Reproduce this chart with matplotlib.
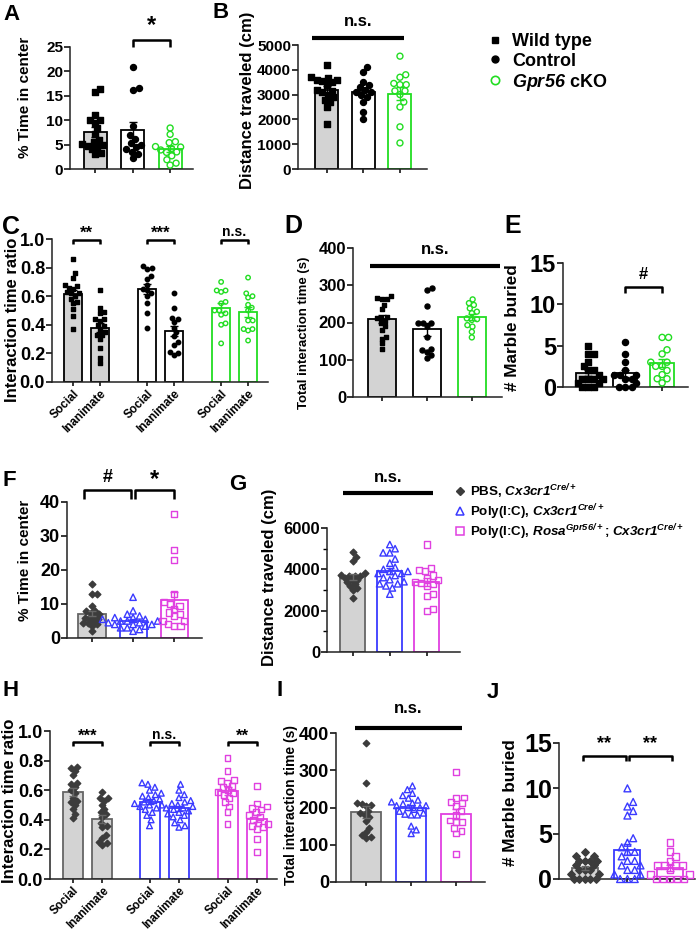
import numpy as np
import matplotlib
matplotlib.use('Agg')
import matplotlib.pyplot as plt
from matplotlib.lines import Line2D

plt.rcParams['font.family'] = ['Liberation Sans', 'DejaVu Sans']
plt.rcParams['font.weight'] = 'bold'
plt.rcParams['axes.labelweight'] = 'bold'
# math text is only used for the italic gene names
plt.rcParams['mathtext.fontset'] = 'custom'
plt.rcParams['mathtext.rm'] = 'Liberation Sans:italic:bold'
plt.rcParams['mathtext.it'] = 'Liberation Sans:italic:bold'
plt.rcParams['mathtext.bf'] = 'Liberation Sans:italic:bold'

# ---- data ----
A_wt = [16.3, 15.8, 11.0, 10.0, 10.0, 9.5, 8.3, 7.2, 6.0, 5.5, 5.2, 5.0, 4.8, 4.5, 4.0, 3.2, 3.0]
A_ctrl = [20.8, 16.5, 16.2, 8.9, 7.0, 6.2, 5.3, 5.0, 4.5, 4.2, 3.5, 3.0, 2.2]
A_cko = [8.4, 7.1, 5.6, 5.4, 4.6, 4.5, 4.2, 3.9, 3.5, 3.4, 2.7, 1.9, 1.2, 0.8]

B_wt = [4200, 3700, 3650, 3600, 3600, 3550, 3500, 3400, 3200, 3150, 3100, 3000, 2900, 2800, 2700, 2500, 1800]
B_ctrl = [4100, 3900, 3500, 3400, 3300, 3200, 3100, 3100, 3000, 2900, 2700, 2300, 2000]
B_cko = [4550, 3800, 3700, 3450, 3400, 3400, 3150, 3150, 3000, 2700, 2500, 1700, 1050]

C_wt_soc = [0.86, 0.76, 0.73, 0.68, 0.67, 0.66, 0.65, 0.63, 0.62, 0.62, 0.60, 0.58, 0.56, 0.55, 0.51, 0.46, 0.37]
C_wt_inan = [0.64, 0.52, 0.49, 0.48, 0.44, 0.44, 0.43, 0.40, 0.39, 0.37, 0.35, 0.33, 0.33, 0.30, 0.24, 0.17, 0.13]
C_ctrl_soc = [0.81, 0.80, 0.79, 0.74, 0.72, 0.68, 0.65, 0.64, 0.62, 0.60, 0.55, 0.48, 0.38]
C_ctrl_inan = [0.62, 0.52, 0.45, 0.44, 0.42, 0.38, 0.35, 0.32, 0.28, 0.26, 0.21, 0.20, 0.19]
C_cko_soc = [0.70, 0.64, 0.64, 0.63, 0.56, 0.55, 0.50, 0.50, 0.48, 0.47, 0.41, 0.40, 0.27]
C_cko_inan = [0.73, 0.62, 0.60, 0.59, 0.54, 0.52, 0.50, 0.43, 0.43, 0.37, 0.37, 0.36, 0.29]

D_wt = [270, 266, 264, 262, 247, 236, 216, 213, 211, 204, 198, 190, 180, 162, 157, 144, 130]
D_ctrl = [293, 287, 245, 200, 200, 198, 190, 160, 130, 125, 122, 112, 105]
D_cko = [262, 252, 247, 238, 229, 225, 211, 209, 207, 193, 189, 175, 160]

E_wt = [5, 4, 4, 3, 2.5, 2, 2, 1.5, 1, 1, 1, 1, 0.5, 0.5, 0, 0, 0]
E_ctrl = [5.5, 4, 3, 2, 1.5, 1.5, 1.5, 1, 1, 0.5, 0, 0, 0]
E_cko = [6, 6, 4.5, 4, 3, 3, 2.5, 2.5, 2, 1.5, 1, 1, 0.5]

F_pbs = [16, 13, 13, 9.5, 8, 8, 7.5, 7, 6.5, 6, 6, 5.5, 5, 4.5, 4.5, 4, 3.5, 2]
F_pic = [12, 8, 7, 6.5, 6, 6, 5.5, 5.5, 5, 5, 5, 4.5, 4.5, 4, 4, 4, 3.5, 3, 3, 2.5, 2]
F_rosa = [36.5, 26, 23, 13, 10.5, 10, 9.5, 8.5, 7.5, 7, 6.5, 5, 5, 4, 3.5, 3.5]

G_pbs = [4850, 4600, 4400, 3800, 3750, 3700, 3700, 3700, 3600, 3500, 3500, 3400, 3300, 3200, 3100, 3000, 2600]
G_pic = [5200, 5000, 4800, 4800, 4500, 4300, 4100, 4000, 3900, 3900, 3800, 3800, 3700, 3600,
         3500, 3400, 3300, 3300, 3200, 3100, 2800]
G_rosa = [5200, 4050, 3950, 3900, 3700, 3600, 3500, 3400, 3350, 3300, 3200, 2800, 2700, 2100, 2000]

H_pbs_soc = [0.76, 0.75, 0.73, 0.70, 0.65, 0.64, 0.62, 0.60, 0.58, 0.55, 0.53, 0.52, 0.50, 0.47, 0.44, 0.41]
H_pbs_inan = [0.59, 0.55, 0.55, 0.53, 0.50, 0.47, 0.45, 0.44, 0.42, 0.38, 0.36, 0.35, 0.30, 0.28, 0.25, 0.24, 0.23]
H_pic_soc = [0.65, 0.64, 0.62, 0.60, 0.58, 0.57, 0.56, 0.55, 0.54, 0.53, 0.52, 0.51, 0.50, 0.50,
             0.49, 0.48, 0.47, 0.45, 0.43, 0.40, 0.36]
H_pic_inan = [0.64, 0.60, 0.57, 0.55, 0.53, 0.52, 0.51, 0.50, 0.49, 0.48, 0.48, 0.47, 0.46, 0.45,
              0.44, 0.43, 0.42, 0.40, 0.38, 0.36, 0.35]
H_rosa_soc = [0.82, 0.73, 0.67, 0.66, 0.65, 0.63, 0.62, 0.60, 0.59, 0.58, 0.57, 0.55, 0.52, 0.49, 0.45, 0.37]
H_rosa_inan = [0.63, 0.51, 0.49, 0.48, 0.47, 0.45, 0.43, 0.42, 0.40, 0.38, 0.37, 0.36, 0.35, 0.34, 0.27, 0.18]

I_pbs = [372, 267, 212, 210, 208, 203, 190, 185, 180, 175, 165, 145, 135, 125, 120, 118]
I_pic = [258, 248, 238, 232, 225, 220, 215, 212, 210, 205, 205, 200, 200, 195, 190, 185, 182, 180,
         180, 150, 140, 130]
I_rosa = [295, 227, 225, 215, 212, 205, 190, 180, 165, 162, 160, 145, 138, 130, 75]

J_pbs = [3, 2.5, 2.5, 2, 2, 2, 2, 1.5, 1.5, 1, 1, 1, 0.5, 0.5, 0, 0, 0, 0, 0]
J_pic = [10, 8.5, 8, 7.5, 7, 4.5, 4, 3.5, 3, 3, 2.5, 2, 2, 1.5, 1.5, 1, 1, 0.5, 0.5, 0, 0, 0]
J_rosa = [4, 3, 2.5, 2, 1.5, 1.5, 1.5, 1.5, 1, 0.5, 0.5, 0, 0, 0, 0, 0]

social_labels = ['Social', 'Inanimate']
legend1_labels = ['Wild type', 'Control', r'$\mathrm{Gpr56}$ cKO']
legend2_labels = [r'PBS, $\mathrm{Cx3cr1}^{\mathrm{Cre/+}}$',
                  r'Poly(I:C), $\mathrm{Cx3cr1}^{\mathrm{Cre/+}}$',
                  r'Poly(I:C), $\mathrm{Rosa}^{\mathrm{Gpr56/+}}$; $\mathrm{Cx3cr1}^{\mathrm{Cre/+}}$']

# ---- styles ----
GREY = '#d3d3d3'
GREEN = '#22dd22'
BLUE = '#3a3aff'
MAGENTA = '#e040e0'
DARK = '#3c3c3c'

WT = dict(marker='s', fc='black', ec='black', fill=GREY, edge='black', err='black')
CTRL = dict(marker='o', fc='black', ec='black', fill='white', edge='black', err='black')
CKO = dict(marker='o', fc='none', ec=GREEN, fill='white', edge=GREEN, err=GREEN)
PBS = dict(marker='D', fc=DARK, ec=DARK, fill=GREY, edge='#666666', err='#666666')
PIC = dict(marker='^', fc='none', ec=BLUE, fill='white', edge=BLUE, err=BLUE)
ROSA = dict(marker='s', fc='none', ec=MAGENTA, fill='white', edge=MAGENTA, err=MAGENTA)

W, H = 700, 931
fig = plt.figure(figsize=(7, 9.31), dpi=100)


def make_ax(l, r, t, b, xlim, ylim, yticks, fs, fmt=None):
    ax = fig.add_axes([l / W, 1 - b / H, (r - l) / W, (b - t) / H])
    ax.set_xlim(*xlim)
    ax.set_ylim(*ylim)
    for s in ['top', 'right']:
        ax.spines[s].set_visible(False)
    for s in ['left', 'bottom']:
        ax.spines[s].set_linewidth(1.1)
        ax.spines[s].set_color('#222222')
    ax.set_yticks(yticks)
    if fmt:
        ax.set_yticklabels([fmt.format(v) for v in yticks])
    ax.tick_params(axis='y', labelsize=fs, length=4, width=1.1, pad=1)
    ax.tick_params(axis='x', length=3, width=1.1)
    ax.panel_px = (l, r, t, b)
    return ax


def set_ylabel(ax, text, fs, right_px, center_px):
    l, r, t, b = ax.panel_px
    ax.set_ylabel(text, fontsize=fs, fontweight='bold')
    ax.yaxis.set_label_coords((right_px - l) / (r - l), (b - center_px) / (b - t))


def swarm(ax, x0, vals, d):
    # simple beeswarm in pixel space
    tr = ax.transData
    pts = tr.transform(np.column_stack([np.full(len(vals), x0), vals]))
    ypx = pts[:, 1]
    x0px = pts[0, 0]
    placed = []
    offs = np.zeros(len(vals))
    for i in np.argsort(vals):
        y = ypx[i]
        cands = [0.0]
        for xo, yo in placed:
            dy = abs(y - yo)
            if dy < d:
                dx = np.sqrt(d * d - dy * dy)
                cands += [xo + dx, xo - dx]
        cands.sort(key=abs)
        c = 0.0
        for c in cands:
            if all((c - xo) ** 2 + (y - yo) ** 2 >= d * d - 1e-6 for xo, yo in placed):
                break
        offs[i] = c
        placed.append((c, y))
    back = tr.inverted().transform(np.column_stack([x0px + offs, ypx]))
    return back[:, 0]


def group(ax, x, vals, st, width, ms, lw_bar=1.3, cap=3):
    vals = np.asarray(vals, dtype=float)
    m = vals.mean()
    se = vals.std(ddof=1) / np.sqrt(len(vals))
    ax.bar(x, m, width, color=st['fill'], edgecolor=st['edge'], linewidth=lw_bar, zorder=1)
    xs = swarm(ax, x, vals, ms * 100 / 72 * 1.05)
    ax.scatter(xs, vals, marker=st['marker'], s=ms ** 2, facecolors=st['fc'],
               edgecolors=st['ec'], linewidths=1.0, zorder=3, clip_on=False)
    ax.errorbar(x, m, yerr=se, color=st['err'], capsize=cap, lw=1.0, capthick=1.0, zorder=4)


def bracket(ax, x1, x2, y, h, text, fs, ty):
    ax.plot([x1, x1, x2, x2], [y - h, y, y, y - h], color='black', lw=1.8, clip_on=False,
            solid_capstyle='butt')
    ax.text((x1 + x2) / 2, ty, text, ha='center', va='center', fontsize=fs, fontweight='bold')


def nsline(ax, x1, x2, y, ty, fs):
    ax.plot([x1, x2], [y, y], color='black', lw=3, clip_on=False, solid_capstyle='butt')
    ax.text((x1 + x2) / 2, ty, 'n.s.', ha='center', va='center', fontsize=fs, fontweight='bold')


def letter(x, y, s, fs=16):
    fig.text(x / W, 1 - y / H, s, fontsize=fs, fontweight='bold', ha='left', va='top')


def legend_rows(xm, xt, ys, markers, labels, fs, shift):
    for y, mk, lab in zip(ys, markers, labels):
        fig.add_artist(Line2D([xm / W], [1 - y / H], transform=fig.transFigure, ls='', **mk))
        fig.text(xt / W, 1 - (y + shift) / H, lab, fontsize=fs, fontweight='bold',
                 ha='left', va='baseline')


# ---- A ----
ax = make_ax(70, 193, 47, 169, (-0.67, 2.61), (0, 25), [0, 5, 10, 15, 20, 25], 11)
ax.set_xticks([0, 1, 2], ['', '', ''])
group(ax, 0, A_wt, WT, 0.61, 4.0)
group(ax, 1, A_ctrl, CTRL, 0.61, 4.3)
group(ax, 2, A_cko, CKO, 0.61, 4.3)
bracket(ax, 1, 2, 26.4, 1.4, '*', 17, 29.5)
set_ylabel(ax, '% Time in center', 11, 32, 97)

# ---- B ----
ax = make_ax(298, 427, 45, 169, (-0.79, 2.74), (0, 5000), [0, 1000, 2000, 3000, 4000, 5000], 11)
ax.set_xticks([0, 1, 2], ['', '', ''])
group(ax, 0, B_wt, WT, 0.63, 4.0)
group(ax, 1, B_ctrl, CTRL, 0.63, 4.3)
group(ax, 2, B_cko, CKO, 0.63, 4.3)
nsline(ax, -0.4, 2.1, 5280, 5950, 12)
set_ylabel(ax, 'Distance traveled (cm)', 12, 255, 100)

legend_rows(495, 512, [40, 59, 80],
            [dict(marker='s', color='black', ms=5),
             dict(marker='o', color='black', ms=5),
             dict(marker='o', mfc='none', mec=GREEN, ms=6, mew=1.2)],
            legend1_labels, 13, 6.5)

# ---- C ----
xc = [0, 1, 2.75, 3.75, 5.5, 6.5]
ax = make_ax(52, 268, 239, 382, (-0.78, 7.24), (0, 1.0), [0, 0.2, 0.4, 0.6, 0.8, 1.0], 13, '{:.1f}')
ax.set_xticks(xc, social_labels * 3, rotation=45, ha='right', rotation_mode='anchor', fontsize=8.5)
ax.tick_params(axis='x', pad=1)
for xi, vals, st in zip(xc, [C_wt_soc, C_wt_inan, C_ctrl_soc, C_ctrl_inan, C_cko_soc, C_cko_inan],
                        [WT, WT, CTRL, CTRL, CKO, CKO]):
    group(ax, xi, vals, st, 0.67, 3.2)
bracket(ax, 0, 1, 0.995, 0.03, '**', 12, 1.04)
bracket(ax, 2.75, 3.75, 0.995, 0.03, '***', 12, 1.04)
bracket(ax, 5.5, 6.5, 0.995, 0.03, 'n.s.', 10, 1.05)
set_ylabel(ax, 'Interaction time ratio', 12, 20, 320)

# ---- D ----
ax = make_ax(353, 502, 248, 397, (-0.64, 2.67), (0, 400), [0, 100, 200, 300, 400], 12)
ax.set_xticks([0, 1, 2], ['', '', ''])
group(ax, 0, D_wt, WT, 0.62, 3.3)
group(ax, 1, D_ctrl, CTRL, 0.62, 3.6)
group(ax, 2, D_cko, CKO, 0.62, 3.6)
nsline(ax, -0.26, 2.62, 352, 395, 12)
set_ylabel(ax, 'Total interaction time (s)', 9.5, 310, 333)

# ---- E ----
ax = make_ax(563, 688, 263, 387, (-0.68, 2.7), (0, 15), [0, 5, 10, 15], 17)
ax.set_xticks([0, 1, 2], ['', '', ''])
group(ax, 0, E_wt, WT, 0.65, 4.2)
group(ax, 1, E_ctrl, CTRL, 0.65, 4.4)
group(ax, 2, E_cko, CKO, 0.65, 4.4)
bracket(ax, 1, 2, 12.1, 0.7, '#', 12, 13.6)
set_ylabel(ax, '# Marble buried', 12.3, 520, 328)

# ---- F ----
ax = make_ax(67, 202, 502, 638, (-0.61, 2.68), (0, 40), [0, 10, 20, 30, 40], 13)
ax.set_xticks([0, 1, 2], ['', '', ''])
group(ax, 0, F_pbs, PBS, 0.66, 3.4)
group(ax, 1, F_pic, PIC, 0.66, 4.6)
group(ax, 2, F_rosa, ROSA, 0.66, 4.4)
bracket(ax, -0.2, 0.95, 43.5, 2.5, '#', 13, 47.3)
bracket(ax, 1.05, 2.0, 43.5, 2.5, '*', 17, 46.5)
set_ylabel(ax, '% Time in center', 11, 32, 560)

# ---- G ----
ax = make_ax(327, 460, 528, 652, (-0.7, 2.9), (0, 6000), [0, 2000, 4000, 6000], 12)
ax.set_yticks([1000, 3000, 5000], minor=True)
ax.tick_params(axis='y', which='minor', length=3, width=1.0)
ax.set_xticks([0, 1, 2], ['', '', ''])
group(ax, 0, G_pbs, PBS, 0.68, 3.4)
group(ax, 1, G_pic, PIC, 0.68, 4.6)
group(ax, 2, G_rosa, ROSA, 0.68, 4.4)
nsline(ax, -0.27, 2.16, 7690, 8420, 12)
set_ylabel(ax, 'Distance traveled (cm)', 12, 277, 577)

legend_rows(460, 470, [491, 511, 531],
            [dict(marker='D', color=DARK, ms=4),
             dict(marker='^', mfc='none', mec=BLUE, ms=6, mew=1.1),
             dict(marker='s', mfc='none', mec=MAGENTA, ms=5.5, mew=1.1)],
            legend2_labels, 9.6, 5)

# ---- H ----
xh = [0, 1, 2.6, 3.6, 5.25, 6.25]
ax = make_ax(50, 277, 731, 879, (-0.78, 6.93), (0, 1.0), [0, 0.2, 0.4, 0.6, 0.8, 1.0], 13, '{:.1f}')
ax.set_xticks(xh, social_labels * 3, rotation=45, ha='right', rotation_mode='anchor', fontsize=8.3)
ax.tick_params(axis='x', pad=1)
for xi, vals, st in zip(xh, [H_pbs_soc, H_pbs_inan, H_pic_soc, H_pic_inan, H_rosa_soc, H_rosa_inan],
                        [PBS, PBS, PIC, PIC, ROSA, ROSA]):
    group(ax, xi, vals, st, 0.68, 3.3 if st is PBS else 4.2)
bracket(ax, 0, 1, 0.926, 0.03, '***', 12, 0.965)
bracket(ax, 2.6, 3.6, 0.926, 0.03, 'n.s.', 10, 0.975)
bracket(ax, 5.25, 6.25, 0.926, 0.03, '**', 12, 0.965)
set_ylabel(ax, 'Interaction time ratio', 12, 17, 801)

# ---- I ----
ax = make_ax(336, 485, 733, 882, (-0.67, 2.64), (0, 400), [0, 100, 200, 300, 400], 13)
ax.set_xticks([0, 1, 2], ['', '', ''])
group(ax, 0, I_pbs, PBS, 0.67, 3.3)
group(ax, 1, I_pic, PIC, 0.67, 4.3)
group(ax, 2, I_rosa, ROSA, 0.67, 4.2)
nsline(ax, -0.25, 2.13, 413, 465, 12)
set_ylabel(ax, 'Total interaction time (s)', 10, 298, 805)

# ---- J ----
ax = make_ax(559, 695, 743, 879, (-0.61, 2.59), (0, 15), [0, 5, 10, 15], 18)
ax.set_xticks([0, 1, 2], ['', '', ''])
group(ax, 0, J_pbs, PBS, 0.61, 3.8)
group(ax, 1, J_pic, PIC, 0.61, 5.0)
group(ax, 2, J_rosa, ROSA, 0.61, 4.8)
bracket(ax, -0.05, 0.97, 13.6, 0.6, '**', 13, 14.9)
bracket(ax, 1.03, 2.05, 13.6, 0.6, '**', 13, 14.9)
set_ylabel(ax, '# Marble buried', 12.3, 518, 803)

# ---- panel letters ----
letter(3, 4, 'A')
letter(213, 2, 'B')
letter(2, 215, 'C', 18)
letter(284, 214, 'D', 18)
letter(504, 214, 'E', 18)
letter(2, 470, 'F')
letter(229, 474, 'G')
letter(2, 680, 'H')
letter(277, 680, 'I')
letter(487, 682, 'J')

fig.savefig('out.png', dpi=100)
